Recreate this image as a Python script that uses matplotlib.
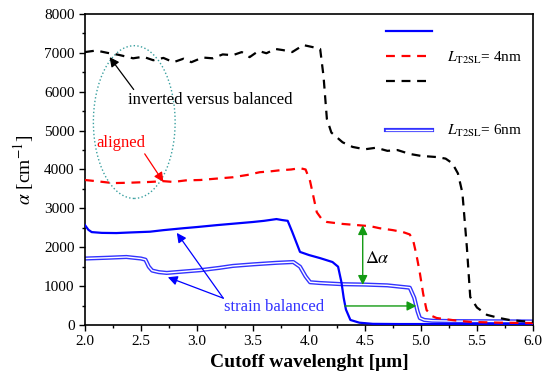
import matplotlib
matplotlib.use("Agg")
import matplotlib.pyplot as plt
from matplotlib.lines import Line2D
from matplotlib.patches import Ellipse
from matplotlib.legend_handler import HandlerTuple
from matplotlib.ticker import MultipleLocator

plt.rcParams['font.family'] = ['Liberation Serif', 'DejaVu Serif']
plt.rcParams['mathtext.fontset'] = 'stix'

# black dashed curve (inverted)
black_x = [2.0, 2.1, 2.2, 2.3, 2.43, 2.52, 2.61, 2.7, 2.79, 2.88, 2.95, 3.05, 3.14, 3.23,
           3.32, 3.4, 3.47, 3.55, 3.62, 3.7, 3.77, 3.85, 3.95, 4.03, 4.1, 4.13, 4.16, 4.2,
           4.3, 4.39, 4.5, 4.6, 4.7, 4.79, 4.9, 5.0, 5.14, 5.22, 5.28, 5.33, 5.37, 5.41,
           5.44, 5.5, 5.59, 5.7, 5.79, 5.9, 6.0]
black_y = [7020, 7060, 7000, 6950, 6860, 6900, 6810, 6870, 6760, 6850, 6760, 6880, 6860, 6960,
           6940, 7020, 6890, 7050, 6990, 7100, 7070, 7020, 7200, 7150, 7100, 6400, 5300, 4950,
           4700, 4580, 4520, 4560, 4480, 4500, 4400, 4350, 4320, 4280, 4160, 3900, 3400, 2000,
           720, 450, 260, 180, 130, 100, 80]

# red dashed curve (aligned)
red_x = [2.0, 2.1, 2.25, 2.4, 2.58, 2.7, 2.79, 2.9, 3.03, 3.15, 3.32, 3.45, 3.56, 3.65, 3.74,
         3.84, 3.92, 3.97, 4.01, 4.04, 4.07, 4.12, 4.16, 4.3, 4.43, 4.55, 4.63, 4.75, 4.84,
         4.9, 4.93, 4.96, 4.99, 5.02, 5.05, 5.1, 5.14, 5.3, 5.44, 5.7, 6.0]
red_y = [3730, 3700, 3650, 3660, 3680, 3700, 3680, 3720, 3730, 3760, 3800, 3860, 3930, 3950, 3980,
         4000, 4035, 4000, 3700, 3300, 2900, 2700, 2650, 2600, 2570, 2540, 2490, 2440, 2390,
         2330, 2180, 1800, 1340, 800, 385, 230, 180, 120, 80, 60, 50]

# blue solid curve (strain balanced, 4nm)
blue4_x = [2.0, 2.03, 2.06, 2.15, 2.28, 2.4, 2.58, 2.7, 2.88, 3.0, 3.18, 3.3, 3.5, 3.6, 3.71,
           3.76, 3.81, 3.85, 3.92, 4.0, 4.1, 4.21, 4.26, 4.29, 4.31, 4.33, 4.37, 4.45, 4.57,
           4.8, 5.2, 6.0]
blue4_y = [2570, 2450, 2390, 2370, 2365, 2380, 2400, 2440, 2490, 2520, 2570, 2600, 2650, 2680, 2725,
           2700, 2680, 2400, 1880, 1800, 1720, 1620, 1500, 1100, 700, 400, 130, 60, 30,
           25, 25, 25]

# blue double line (strain balanced, 6nm)
blue6_x = [2.0, 2.2, 2.37, 2.5, 2.54, 2.57, 2.6, 2.66, 2.73, 2.9, 3.03, 3.2, 3.32, 3.5, 3.71,
           3.86, 3.92, 3.97, 4.01, 4.1, 4.3, 4.5, 4.7, 4.9, 4.94, 4.97, 4.99, 5.03, 5.1, 5.3, 6.0]
blue6_y = [1710, 1730, 1750, 1710, 1680, 1500, 1400, 1360, 1340, 1380, 1410, 1470, 1520, 1560, 1600,
           1620, 1500, 1250, 1100, 1080, 1050, 1040, 1020, 960, 700, 350, 180, 130, 110, 100, 90]

fig = plt.figure(figsize=(5.5, 3.84), dpi=100)
ax = fig.add_axes([0.1545, 0.1536, 0.8145, 0.81])

dash = (0, (4, 3))
ax.plot(blue4_x, blue4_y, color='#0000ff', lw=1.6, zorder=3)
ax.plot(red_x, red_y, color='#ff0000', lw=1.6, ls=dash, zorder=3)
ax.plot(black_x, black_y, color='black', lw=1.6, ls=dash, zorder=3)
ax.plot(blue6_x, blue6_y, color='#3333ff', lw=3.0, zorder=2)
ax.plot(blue6_x, blue6_y, color='white', lw=1.0, zorder=2)

ax.set_xlim(2.0, 6.0)
ax.set_ylim(0, 8000)
ax.xaxis.set_major_locator(MultipleLocator(0.5))
ax.xaxis.set_minor_locator(MultipleLocator(0.25))
ax.yaxis.set_major_locator(MultipleLocator(1000))
ax.yaxis.set_minor_locator(MultipleLocator(500))
ax.tick_params(which='both', direction='out', top=False, right=False, labelsize=11)
ax.tick_params(which='major', length=4, width=1)
ax.tick_params(which='minor', length=2.5, width=1)
for s in ax.spines.values():
    s.set_linewidth(1.2)
ax.xaxis.set_major_formatter(matplotlib.ticker.FormatStrFormatter('%.1f'))

ax.set_xlabel('Cutoff wavelenght [μm]', fontsize=14, fontweight='bold', labelpad=4)
ax.set_ylabel(r'$\alpha$ [cm$^{-1}$]', fontsize=14, labelpad=6)

# annotations
ax.add_patch(Ellipse((2.44, 5220), 0.73, 3930, fill=False, ls=':', color='#3aa0a0', lw=1))
ax.annotate('inverted versus balanced', xy=(2.22, 6890), xytext=(2.38, 5780),
            fontsize=12, ha='left', va='center',
            arrowprops=dict(arrowstyle='-|>', color='black', lw=0.9, mutation_scale=14,
                            shrinkA=0, shrinkB=0, relpos=(0.05, 1.0)))
ax.annotate('aligned', xy=(2.7, 3680), xytext=(2.32, 4680), color='#ff0000',
            fontsize=12, ha='center', va='center',
            arrowprops=dict(arrowstyle='-|>', color='#ff0000', lw=0.9, mutation_scale=14,
                            shrinkA=0, shrinkB=0, relpos=(0.95, 0.0)))
ax.text(3.24, 460, 'strain balanced', color='#3333ff', fontsize=12, ha='left', va='center')
for tip in [(2.82, 2370), (2.74, 1230)]:
    ax.annotate('', xy=tip, xytext=(3.235, 690),
                arrowprops=dict(arrowstyle='-|>', color='#0000ff', lw=0.9, mutation_scale=14,
                                shrinkA=0, shrinkB=0))
ax.annotate('', xy=(4.48, 2570), xytext=(4.48, 1030),
            arrowprops=dict(arrowstyle='<|-|>', color='#139a13', lw=1.0, mutation_scale=14,
                            shrinkA=0, shrinkB=0))
ax.text(4.61, 1720, r'$\Delta\alpha$', fontsize=13, ha='center', va='center')
ax.annotate('', xy=(4.96, 490), xytext=(4.32, 490),
            arrowprops=dict(arrowstyle='-|>', color='#139a13', lw=1.0, mutation_scale=14,
                            shrinkA=0, shrinkB=0))

# legend
h_blue = Line2D([], [], color='#0000ff', lw=1.6)
h_red = Line2D([], [], color='#ff0000', lw=1.6, ls=dash)
h_black = Line2D([], [], color='black', lw=1.6, ls=dash)
h_blank = Line2D([], [], color='none')
h_6 = (Line2D([], [], color='#3333ff', lw=3.0), Line2D([], [], color='white', lw=1.0))
ax.legend([h_blue, h_red, h_black, h_blank, h_6],
          ['', r'$L_{\rm T2SL}$= 4nm', '', '', r'$L_{\rm T2SL}$= 6nm'],
          handler_map={tuple: HandlerTuple(ndivide=1)},
          loc='upper left', bbox_to_anchor=(0.672, 0.962), frameon=False, fontsize=11,
          handlelength=3.0, handletextpad=1.0, labelspacing=0.66, borderaxespad=0,
          borderpad=0)

fig.savefig('out.png', dpi=100)
